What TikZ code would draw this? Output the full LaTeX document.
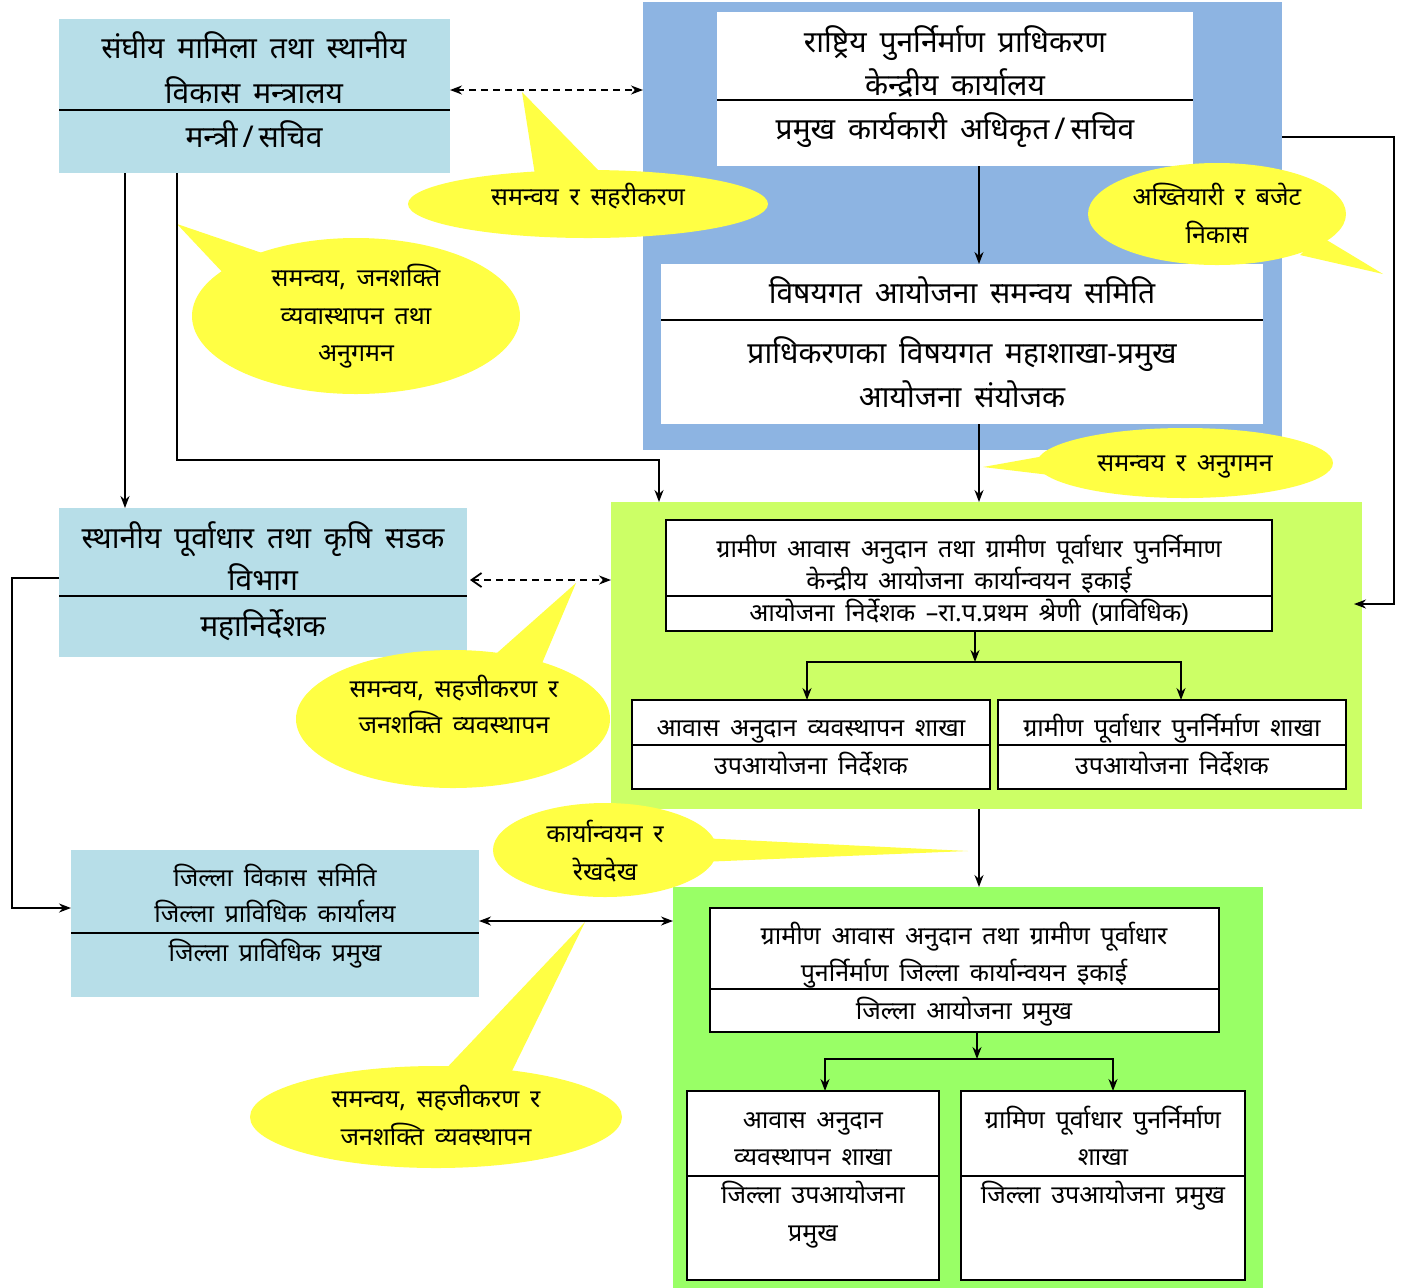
\documentclass[tikz,border=0pt]{standalone}
\usepackage{fontspec}
\setmainfont{Noto Sans}[Script=Devanagari, WordSpace=1.65]
\usetikzlibrary{arrows.meta,shapes.geometric}
\definecolor{lblue}{HTML}{B7DEE8}
\definecolor{pblue}{HTML}{8DB4E2}
\definecolor{gone}{HTML}{CCFF66}
\definecolor{gtwo}{HTML}{99FF66}
\definecolor{yel}{HTML}{FFFF44}
\newcommand\bigfs{\fontsize{15}{18}\selectfont}
\newcommand\smfs{\fontsize{12.5}{15}\selectfont}
\newcommand\mkbox[6]{\node[#2, minimum width={(#5-#3)*0.5pt}, minimum height={(#6-#4)*0.5pt}] (#1) at ({(#3+#5)/2},{(#4+#6)/2}) {};}
\newcommand\mkcall[5]{\node[callout, minimum width={(#4)*1pt}, minimum height={(#5)*1pt}] (#1) at (#2,#3) {};}
\tikzset{
  boxbase/.style={inner sep=0, outer sep=0, rectangle},
  lbox/.style={boxbase, fill=lblue, draw=none},
  pbox/.style={boxbase, fill=pblue, draw=none},
  gonebox/.style={boxbase, fill=gone, draw=none},
  gtwobox/.style={boxbase, fill=gtwo, draw=none},
  wfill/.style={boxbase, fill=white, draw=none},
  wbox/.style={boxbase, fill=white, draw=black, line width=0.75pt},
  callout/.style={ellipse, fill=yel, draw=none, inner sep=0, outer sep=0},
  wedge/.style={fill=yel, draw=none},
  bt/.style={font=\bigfs, anchor=base, yshift=-5pt, inner sep=0},
  st/.style={font=\smfs, anchor=base, yshift=-4.5pt, inner sep=0},
  divl/.style={line width=1pt},
  conn/.style={line width=0.9pt},
  tipS/.tip={Stealth[length=6pt,width=4.5pt]},
  arr/.style={conn, -tipS},
  darr/.style={conn, tipS-tipS},
  dsh/.style={dash pattern=on 3.5pt off 2.5pt},
}
\begin{document}
\begin{tikzpicture}[x=0.5pt,y=-0.5pt]
\useasboundingbox (0,0) rectangle (1409,1287);
\fill[white] (0,0) rectangle (1409,1287);
% panels and boxes
\mkbox{a}{lbox}{59}{19}{450}{173}
\mkbox{bp}{pbox}{643}{2}{1282}{450}
\mkbox{b1}{wfill}{717}{12}{1193}{166}
\mkbox{b2}{wfill}{661}{264}{1263}{424}
\mkbox{d}{lbox}{59}{508}{467}{657}
\mkbox{g1}{gonebox}{611}{502}{1362}{809}
\mkbox{c1}{wbox}{666}{520}{1272}{631}
\mkbox{c2}{wbox}{632}{700}{990}{789}
\mkbox{c3}{wbox}{998}{700}{1346}{789}
\mkbox{e}{lbox}{71}{850}{479}{997}
\mkbox{g2}{gtwobox}{673}{887}{1263}{1290}
\mkbox{f1}{wbox}{710}{908}{1219}{1032}
\mkbox{f2}{wbox}{687}{1091}{939}{1280}
\mkbox{f3}{wbox}{961}{1091}{1245}{1280}
% dividers
\draw[divl] (59,110) -- (450,110);
\draw[divl] (717,100) -- (1193,100);
\draw[divl] (661,320) -- (1263,320);
\draw[divl] (59,596) -- (467,596);
\draw[conn] (666,596) -- (1272,596);
\draw[conn] (632,745) -- (990,745);
\draw[conn] (998,745) -- (1346,745);
\draw[divl] (71,933) -- (479,933);
\draw[conn] (710,989) -- (1219,989);
\draw[conn] (687,1176) -- (939,1176);
\draw[conn] (961,1176) -- (1245,1176);
% box texts
\node[bt] (a1) at (254,48) {संघीय मामिला तथा स्थानीय};
\node[bt] (a2) at (254,93) {विकास मन्त्रालय};
\node[bt] (a3) at (254,137) {मन्त्री\,/\,सचिव};
\node[bt] (b11) at (955,42) {राष्ट्रिय पुनर्निर्माण प्राधिकरण};
\node[bt] (b12) at (955,85) {केन्द्रीय कार्यालय};
\node[bt] (b13) at (955,129) {प्रमुख कार्यकारी अधिकृत\,/\,सचिव};
\node[bt] (b21) at (962,293) {विषयगत आयोजना समन्वय समिति};
\node[bt] (b22) at (962,353) {प्राधिकरणका विषयगत महाशाखा-प्रमुख};
\node[bt] (b23) at (962,397) {आयोजना संयोजक};
\node[bt] (d1) at (263,538) {स्थानीय पूर्वाधार तथा कृषि सडक};
\node[bt] (d2) at (263,580) {विभाग};
\node[bt] (d3) at (263,626) {महानिर्देशक};
\node[st] (c11) at (969,548) {ग्रामीण आवास अनुदान तथा ग्रामीण पूर्वाधार पुनर्निमाण};
\node[st] (c12) at (969,580) {केन्द्रीय आयोजना कार्यान्वयन इकाई};
\node[st] (c13) at (969,612) {आयोजना निर्देशक –रा.प.प्रथम श्रेणी (प्राविधिक)};
\node[st] (c21) at (811,727) {आवास अनुदान व्यवस्थापन शाखा};
\node[st] (c22) at (811,765) {उपआयोजना निर्देशक};
\node[st] (c31) at (1172,727) {ग्रामीण पूर्वाधार पुनर्निर्माण शाखा};
\node[st] (c32) at (1172,765) {उपआयोजना निर्देशक};
\node[st] (e1) at (275,877) {जिल्ला विकास समिति};
\node[st] (e2) at (275,913) {जिल्ला प्राविधिक कार्यालय};
\node[st] (e3) at (275,952) {जिल्ला प्राविधिक प्रमुख};
\node[st] (f11) at (964,935) {ग्रामीण आवास अनुदान तथा ग्रामीण पूर्वाधार};
\node[st] (f12) at (964,972) {पुनर्निर्माण जिल्ला कार्यान्वयन इकाई};
\node[st] (f13) at (964,1010) {जिल्ला आयोजना प्रमुख};
\node[st] (f21) at (813,1119) {आवास अनुदान};
\node[st] (f22) at (813,1156) {व्यवस्थापन शाखा};
\node[st] (f23) at (813,1194) {जिल्ला उपआयोजना};
\node[st] (f24) at (813,1232) {प्रमुख};
\node[st] (f31) at (1103,1119) {ग्रामिण पूर्वाधार पुनर्निर्माण};
\node[st] (f32) at (1103,1156) {शाखा};
\node[st] (f33) at (1103,1194) {जिल्ला उपआयोजना प्रमुख};
% callouts
\fill[wedge] (535,175) -- (522,92) -- (603,175) -- cycle;
\mkcall{k1}{588}{204}{180}{34}
\fill[wedge] (1320,236) -- (1383,274) -- (1300,255) -- cycle;
\mkcall{k2}{1217}{214}{129}{51}
\fill[wedge] (268,255) -- (177,224) -- (225,275) -- cycle;
\mkcall{k3}{356}{316}{164}{78}
\fill[wedge] (1050,455) -- (983,467) -- (1050,475) -- cycle;
\mkcall{k4}{1185}{463}{148}{35}
\fill[wedge] (480,668) -- (576,583) -- (540,668) -- cycle;
\mkcall{k5}{453}{719}{157}{69}
\fill[wedge] (700,838) -- (968,851) -- (700,862) -- cycle;
\mkcall{k6}{605}{850}{112}{47}
\fill[wedge] (440,1075) -- (585,922) -- (510,1075) -- cycle;
\mkcall{k7}{436}{1117}{186}{51}
\node[st] (k1t) at (588,196) {समन्वय र सहरीकरण};
\node[st] (k2t) at (1217,196) {अख्तियारी र बजेट};
\node[st] (k2u) at (1217,234) {निकास};
\node[st] (k3t) at (356,277) {समन्वय, जनशक्ति};
\node[st] (k3u) at (356,315) {व्यवास्थापन तथा};
\node[st] (k3v) at (356,352) {अनुगमन};
\node[st] (k4t) at (1185,462) {समन्वय र अनुगमन};
\node[st] (k5t) at (454,688) {समन्वय, सहजीकरण र};
\node[st] (k5u) at (454,724) {जनशक्ति व्यवस्थापन};
\node[st] (k6t) at (605,833) {कार्यान्वयन र};
\node[st] (k6u) at (605,871) {रेखदेख};
\node[st] (k7t) at (436,1098) {समन्वय, सहजीकरण र};
\node[st] (k7u) at (436,1136) {जनशक्ति व्यवस्थापन};
% connector helper coordinates
\coordinate (col) at (979,0);
\coordinate (ya) at (0,90);
\coordinate (yd) at (0,580);
\coordinate (ye) at (0,921);
\coordinate (xa1) at (125,0);
\coordinate (xa2) at (177,0);
\coordinate (bendA) at (659,460);
\coordinate (rb) at (1394,137);
\coordinate (rtip) at (1354,604);
\coordinate (lb) at (12,578);
\coordinate (ein) at (0,908);
\coordinate (cj) at (975,662);
\coordinate (fj) at (977,1059);
% connectors
\draw[conn, dsh, tipS-tipS] (a.east |- ya) -- (bp.west |- ya);
\draw[arr] (b1.south -| col) -- (b2.north -| col);
\draw[arr] (b2.south -| col) -- (g1.north -| col);
\draw[arr] (g1.south -| col) -- (g2.north -| col);
\draw[arr] (a.south -| xa1) -- (d.north -| xa1);
\draw[arr] (a.south -| xa2) |- (bendA) -- (g1.north -| bendA);
\draw[arr] (bp.east |- rb) -- (rb) |- (rtip);
\draw[conn, dsh, {Straight Barb[length=5pt,width=7pt]}-tipS] ([xshift=1.5pt]d.east |- yd) -- (g1.west |- yd);
\draw[arr] (d.west |- lb) -- (lb) |- (e.west |- ein);
\draw[darr] (e.east |- ye) -- (g2.west |- ye);
\draw[arr] (c1.south -| cj) -- (cj);
\draw[arr] (cj) -| ([xshift=-2pt]c2.north);
\draw[arr] (cj) -| ([xshift=4.5pt]c3.north);
\draw[arr] (f1.south -| fj) -- (fj);
\draw[arr] (fj) -| ([xshift=6pt]f2.north);
\draw[arr] (fj) -| ([xshift=5pt]f3.north);
\end{tikzpicture}
\end{document}
